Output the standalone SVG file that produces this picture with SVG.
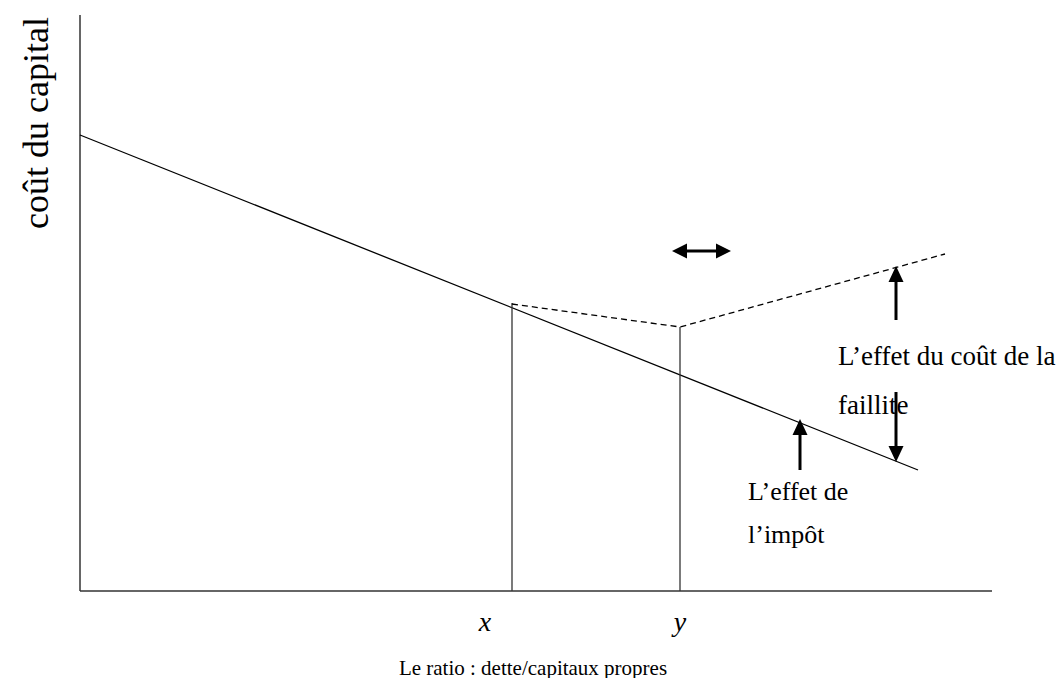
<svg xmlns="http://www.w3.org/2000/svg" width="1064" height="678" viewBox="0 0 1064 678">
<style>
  .t{font-family:"Liberation Serif","Times New Roman",serif;fill:#000}
  .lbl{font-size:26px}
  .axis{stroke:#333;stroke-width:1.5;fill:none}
  .ref{stroke:#333;stroke-width:1.3;fill:none}
  .main{stroke:#000;stroke-width:1.3;fill:none}
  .dash{stroke:#000;stroke-width:1.3;fill:none;stroke-dasharray:6 4}
  .arr{stroke:#000;stroke-width:3;fill:none}
  .head{fill:#000}
</style>
<rect width="1064" height="678" fill="#fff"/>
<g id="axes">
  <line class="axis" x1="80" y1="15" x2="80" y2="591"/>
  <line class="axis" x1="80" y1="591" x2="992" y2="591"/>
</g>
<g id="curves">
  <line class="main" x1="80" y1="135" x2="918" y2="470"/>
  <line class="ref" x1="512" y1="303" x2="512" y2="591"/>
  <line class="ref" x1="680" y1="327" x2="680" y2="591"/>
  <polyline class="dash" points="512,304 680,327 945,254"/>
</g>
<g id="connectors">
  <line class="arr" x1="686" y1="251" x2="717" y2="251"/>
  <polygon class="head" points="672,251 687,243.5 687,258.5"/>
  <polygon class="head" points="731,251 716,243.5 716,258.5"/>
  <line class="arr" x1="896" y1="320" x2="896" y2="280"/>
  <polygon class="head" points="896,266 888.5,282 903.5,282"/>
  <line class="arr" x1="896" y1="392" x2="896" y2="448"/>
  <polygon class="head" points="896,462 888.5,446 903.5,446"/>
  <line class="arr" x1="800" y1="470" x2="800" y2="432"/>
  <polygon class="head" points="800,419 792.5,435 807.5,435"/>
</g>
<g id="labels">
  <text class="t" font-size="36" transform="translate(48,123) rotate(-90)" text-anchor="middle">coût du capital</text>
  <text class="t" font-size="27" x="838" y="365">L’effet du coût de la</text>
  <text class="t" font-size="27" x="838" y="414">faillite</text>
  <text class="t lbl" x="748" y="500">L’effet de</text>
  <text class="t lbl" x="748" y="543">l’impôt</text>
  <text class="t" font-size="28" x="485" y="631" font-style="italic" text-anchor="middle">x</text>
  <text class="t" font-size="28" x="680" y="631" font-style="italic" text-anchor="middle">y</text>
  <text class="t" font-size="21" x="533" y="675" text-anchor="middle">Le ratio : dette/capitaux propres</text>
</g>
</svg>
